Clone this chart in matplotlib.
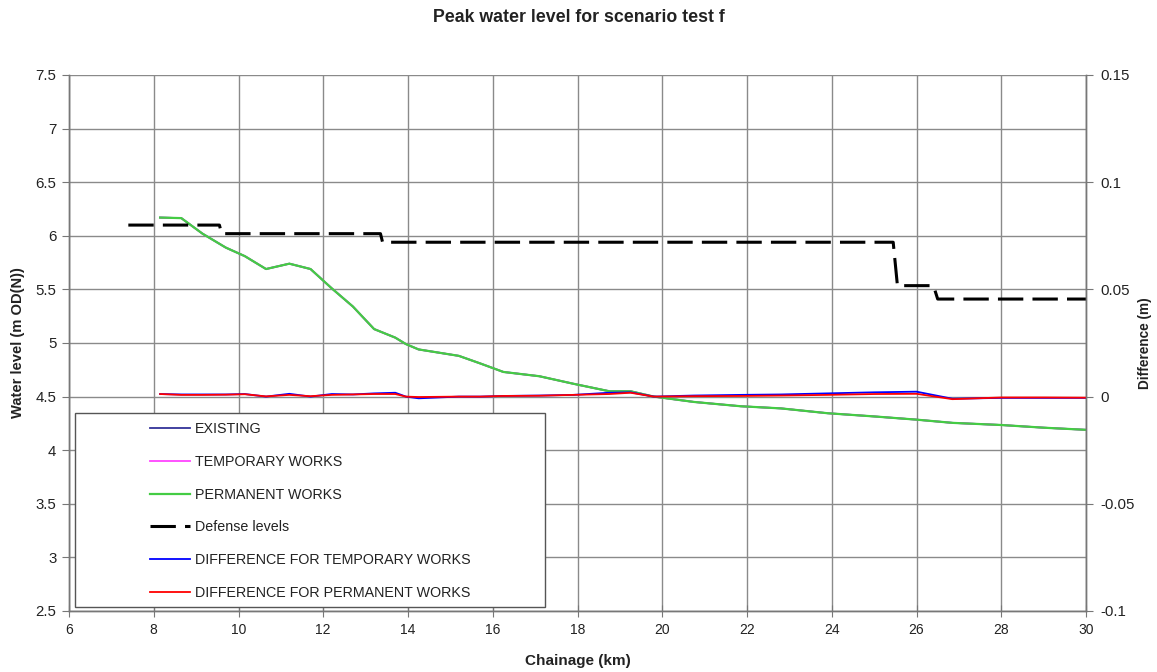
import matplotlib
matplotlib.use("Agg")
import matplotlib.pyplot as plt
from matplotlib.patches import Rectangle
from matplotlib.ticker import FuncFormatter

plt.rcParams['font.family'] = ['Liberation Sans', 'DejaVu Sans']

# Model output chainages (km)
chainage = [8.15, 8.65, 9.15, 9.7, 10.15, 10.65, 11.2, 11.7, 12.2, 12.7, 13.2, 13.7,
            13.95, 14.25, 15.2, 15.7, 16.25, 17.1, 17.9, 18.75, 19.25, 19.8, 20.75,
            21.85, 22.8, 23.9, 25.0, 26.0, 26.85, 28.0, 29.0, 30.0]

# Peak water levels (m OD(N))
existing = [6.17, 6.165, 6.02, 5.89, 5.81, 5.69, 5.74, 5.69, 5.51, 5.34, 5.13, 5.05,
            4.99, 4.94, 4.88, 4.81, 4.73, 4.69, 4.62, 4.55, 4.55, 4.50, 4.45,
            4.41, 4.39, 4.345, 4.315, 4.285, 4.255, 4.235, 4.21, 4.19]
temporary = [6.17, 6.165, 6.02, 5.89, 5.81, 5.69, 5.74, 5.69, 5.51, 5.34, 5.13, 5.05,
             4.99, 4.94, 4.88, 4.81, 4.73, 4.69, 4.62, 4.55, 4.55, 4.50, 4.45,
             4.41, 4.39, 4.345, 4.315, 4.285, 4.255, 4.235, 4.21, 4.19]
permanent = [6.17, 6.165, 6.02, 5.89, 5.81, 5.69, 5.74, 5.69, 5.51, 5.34, 5.13, 5.05,
             4.99, 4.94, 4.88, 4.81, 4.73, 4.69, 4.62, 4.55, 4.55, 4.50, 4.45,
             4.41, 4.39, 4.345, 4.315, 4.285, 4.255, 4.235, 4.21, 4.19]

# Differences from existing (m)
diff_temporary = [0.0012, 0.0010, 0.0010, 0.0010, 0.0012, 0.0000, 0.0013, 0.0000,
                  0.0012, 0.0010, 0.0015, 0.0018, 0.0000, -0.0008, 0.0000, 0.0000,
                  0.0003, 0.0005, 0.0008, 0.0018, 0.0020, 0.0000, 0.0005, 0.0008,
                  0.0010, 0.0015, 0.0020, 0.0023, -0.0010, -0.0006, -0.0006, -0.0006]
diff_permanent = [0.0012, 0.0008, 0.0008, 0.0009, 0.0011, 0.0001, 0.0008, 0.0002,
                  0.0008, 0.0010, 0.0012, 0.0012, 0.0000, -0.0002, 0.0000, 0.0000,
                  0.0003, 0.0004, 0.0008, 0.0012, 0.0018, 0.0000, 0.0002, 0.0003,
                  0.0005, 0.0008, 0.0012, 0.0013, -0.0012, -0.0004, -0.0004, -0.0005]

# Defence crest levels (stepped)
defense_x = [7.4, 9.55, 9.6, 13.35, 13.4, 25.45, 25.55, 26.4, 26.5, 30.0]
defense_y = [6.1, 6.1, 6.02, 6.02, 5.94, 5.94, 5.535, 5.535, 5.41, 5.41]

x_ticks = [6, 8, 10, 12, 14, 16, 18, 20, 22, 24, 26, 28, 30]
left_ticks = [2.5, 3, 3.5, 4, 4.5, 5, 5.5, 6, 6.5, 7, 7.5]
right_ticks = [-0.1, -0.05, 0, 0.05, 0.1, 0.15]

W, H = 1157, 672
fig = plt.figure(figsize=(W / 100, H / 100), dpi=100)
ax = fig.add_axes([69 / W, 1 - 611 / H, (1086 - 69) / W, (611 - 75) / H])
ax2 = ax.twinx()

grid_col = '#8a8a8a'
tick_col = '#777777'
label_col = '#222222'
ax.set_xlim(6, 30)
ax.set_ylim(2.5, 7.5)
ax.set_xticks(x_ticks)
ax.set_yticks(left_ticks)
ax.grid(True, color=grid_col, lw=1.0)
ax.set_axisbelow(True)
ax2.set_ylim(-0.1, 0.15)
ax2.set_yticks(right_ticks)

fmt = FuncFormatter(lambda v, p: ('%g' % v))
ax.yaxis.set_major_formatter(fmt)
ax2.yaxis.set_major_formatter(fmt)

for a in (ax, ax2):
    for s in a.spines.values():
        s.set_color(tick_col)
        s.set_linewidth(1.0)
ax.spines['top'].set_visible(False)
ax2.spines['top'].set_visible(False)
ax.tick_params(axis='y', direction='out', length=5, color=tick_col,
               labelcolor=label_col, labelsize=10.8, pad=4)
ax.tick_params(axis='x', direction='inout', length=8, color=tick_col,
               labelcolor=label_col, labelsize=10, pad=5)
ax2.tick_params(axis='y', direction='out', length=5, color=tick_col,
                labelcolor=label_col, labelsize=10.8, pad=5)

h_ex, = ax.plot(chainage, existing, color='#333399', lw=1.3, label='EXISTING')
h_tp, = ax.plot(chainage, temporary, color='#ff44ff', lw=1.3, label='TEMPORARY WORKS')
h_pm, = ax.plot(chainage, permanent, color='#44cc44', lw=1.6, label='PERMANENT WORKS')
h_df, = ax.plot(defense_x, defense_y, color='black', lw=2.2, dashes=(8.3, 3.0),
                label='Defense levels')
h_dt, = ax2.plot(chainage, diff_temporary, color='#0000ff', lw=1.3,
                 label='DIFFERENCE FOR TEMPORARY WORKS')
h_dp, = ax2.plot(chainage, diff_permanent, color='#ff0000', lw=1.3,
                 label='DIFFERENCE FOR PERMANENT WORKS')

# Legend frame with indented entries
x0 = (75 - 69) / (1086 - 69)
x1 = (545 - 69) / (1086 - 69)
y0 = (611 - 607) / (611 - 75)
y1 = (611 - 413) / (611 - 75)
ax2.add_patch(Rectangle((x0, y0), x1 - x0, y1 - y0, transform=ax2.transAxes,
                        facecolor='white', edgecolor='#555555', lw=1.0, zorder=5))
leg = ax2.legend(handles=[h_ex, h_tp, h_pm, h_df, h_dt, h_dp],
                 loc='upper left', bbox_to_anchor=(0.0754, 0.3604),
                 frameon=False, fontsize=10.3, handlelength=2.8, handletextpad=0.35,
                 labelspacing=1.31, borderpad=0.3, borderaxespad=0)
for t in leg.get_texts():
    t.set_color(label_col)
leg.set_zorder(6)

fig.text(0.5, 1 - 17 / H, 'Peak water level for scenario test f', ha='center',
         va='center', fontsize=12.8, fontweight='bold', color=label_col)
fig.text(18 / W, 1 - 343 / H, 'Water level (m OD(N))', rotation=90, ha='center',
         va='center', fontsize=10.6, fontweight='bold', color=label_col)
fig.text(1145 / W, 1 - 343 / H, 'Difference (m)', rotation=90, ha='center',
         va='center', fontsize=9.8, fontweight='bold', color=label_col)
fig.text(578 / W, 1 - 661 / H, 'Chainage (km)', ha='center', va='center',
         fontsize=11, fontweight='bold', color=label_col)

fig.savefig('out.png', dpi=100)
